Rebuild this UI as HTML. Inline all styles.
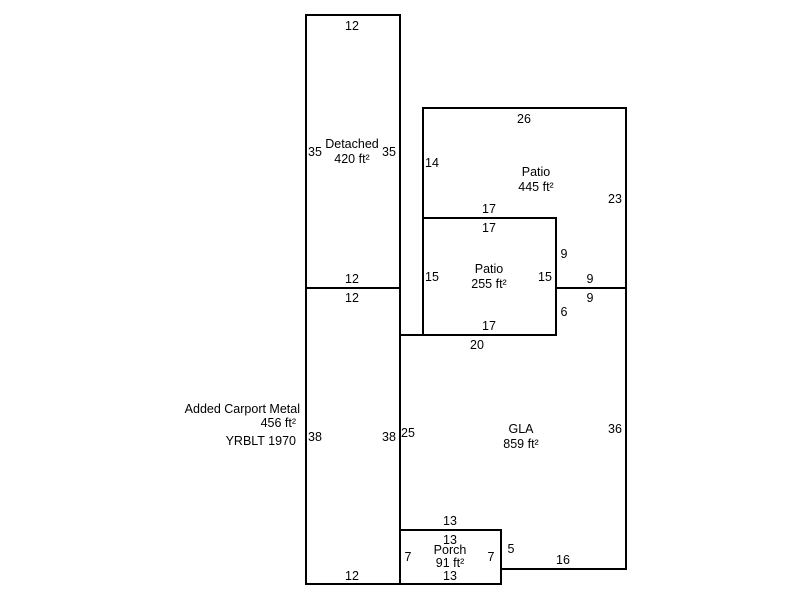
<!DOCTYPE html>
<html><head><meta charset="utf-8"><style>
html,body{margin:0;padding:0;background:#fff;}
svg{display:block;}
text{font-family:"Liberation Sans",Arial,sans-serif;font-size:12.5px;fill:#000;}
</style></head><body>
<svg width="800" height="600" viewBox="0 0 800 600" xmlns="http://www.w3.org/2000/svg">
<g fill="none" stroke="#000" stroke-width="2">
<rect x="306" y="15" width="94" height="273"/>
<rect x="306" y="288" width="94" height="296"/>
<polyline points="423,218 423,108 626,108 626,288 556,288"/>
<rect x="423" y="218" width="133" height="117"/>
<polyline points="400,335 423,335"/>
<polyline points="556,288 626,288 626,569 501,569"/>
<rect x="400" y="530" width="101" height="54"/>
</g>
<g text-anchor="middle">
<text x="352" y="30">12</text>
<text x="352" y="148">Detached</text>
<text x="352" y="163">420 ft²</text>
<text x="315" y="156">35</text>
<text x="389" y="156">35</text>
<text x="352" y="283">12</text>
<text x="352" y="302">12</text>
<text x="300" y="413" text-anchor="end">Added Carport Metal</text>
<text x="296" y="427" text-anchor="end">456 ft²</text>
<text x="296" y="445" text-anchor="end">YRBLT 1970</text>
<text x="315" y="441">38</text>
<text x="389" y="441">38</text>
<text x="352" y="580">12</text>
<text x="524" y="123">26</text>
<text x="432" y="167">14</text>
<text x="536" y="176">Patio</text>
<text x="536" y="191">445 ft²</text>
<text x="615" y="203">23</text>
<text x="489" y="213">17</text>
<text x="489" y="232">17</text>
<text x="564" y="258">9</text>
<text x="489" y="273">Patio</text>
<text x="489" y="288">255 ft²</text>
<text x="432" y="281">15</text>
<text x="545" y="281">15</text>
<text x="590" y="283">9</text>
<text x="590" y="302">9</text>
<text x="564" y="316">6</text>
<text x="489" y="330">17</text>
<text x="477" y="349">20</text>
<text x="408" y="437">25</text>
<text x="521" y="433">GLA</text>
<text x="521" y="448">859 ft²</text>
<text x="615" y="433">36</text>
<text x="450" y="525">13</text>
<text x="450" y="544">13</text>
<text x="450" y="554">Porch</text>
<text x="450" y="567">91 ft²</text>
<text x="408" y="561">7</text>
<text x="491" y="561">7</text>
<text x="511" y="553">5</text>
<text x="563" y="564">16</text>
<text x="450" y="580">13</text>
</g>
</svg>
</body></html>
